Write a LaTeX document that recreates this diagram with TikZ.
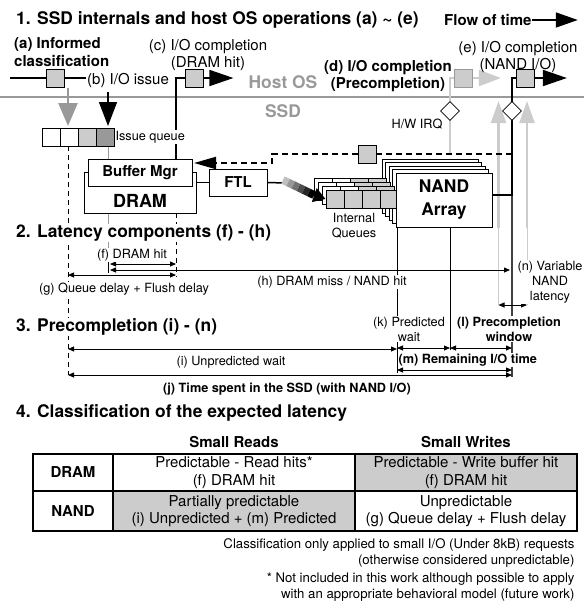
\documentclass[tikz,border=0pt]{standalone}
\usepackage{fontspec}
\setmainfont{TeX Gyre Heros}
\usetikzlibrary{arrows.meta,calc,positioning,shapes.geometric}
\definecolor{boxgray}{HTML}{CCCCCC}
\definecolor{midgray}{HTML}{999999}
\newcommand{\ftitle}{\fontsize{17.4}{20}\selectfont\bfseries}
\newcommand{\fbody}{\fontsize{15}{17.5}\selectfont}
\newcommand{\fsmall}{\fontsize{12.7}{15}\selectfont}
\newcommand{\fnote}{\fontsize{13.2}{16.5}\selectfont}
\tikzset{
  wire/.style      = {line width=1.8pt},
  thinwire/.style  = {line width=0.8pt},
  graywire/.style  = {line width=2.2pt, boxgray},
  guide/.style     = {line width=0.8pt, dash pattern=on 5pt off 4pt},
  sepline/.style   = {line width=2.6pt, midgray},
  sqbox/.style     = {draw, fill=boxgray, line width=0.8pt, minimum size=18pt, inner sep=0pt},
  cell/.style      = {draw, fill=white, line width=0.8pt, minimum size=18pt, inner sep=0pt},
  blockbox/.style  = {draw, fill=white, line width=1pt, inner sep=0pt, font=\fbody\bfseries},
  irq/.style       = {diamond, draw, fill=white, line width=0.8pt, minimum size=19pt, inner sep=0pt},
  sectitle/.style  = {font=\ftitle, anchor=west, fill=white, inner sep=1pt},
  annot/.style     = {font=\fsmall, align=center, fill=white, inner sep=1pt},
  bigarrow/.style  = {-{Triangle[length=24pt,width=16pt]}},
  dimarrow/.style  = {{Triangle[length=6pt,width=5pt]}-{Triangle[length=6pt,width=5pt]}, line width=0.8pt},
}

\begin{document}
\begin{tikzpicture}[x=1pt,y=-1pt]
  \useasboundingbox (0,0) rectangle (584,611);

  % host OS / SSD boundary
  \draw[sepline] (0,97) -- (584,97);
  \node[font=\ftitle, text=midgray] (hostos) at (283,82) {Host OS};
  \node[font=\ftitle, text=midgray] (ssd) at (283,111) {SSD};

  % guides down to the time lines
  \draw[guide] (68,146) -- (68,375);
  \draw[thinwire, midgray] (108,146) -- (108,159);
  \draw[thinwire, midgray] (108,213) -- (108,268);
  \draw[guide] (176,213) -- (176,277);
  \draw[thinwire] (108,262) -- (108,273);
  \draw[thinwire] (397,227) -- (397,373);
  \draw[thinwire] (450,227) -- (450,350);
  \draw[line width=1.3pt, black!75] (512,195) -- (512,377);

  % NAND latency spread
  \foreach \x in {498.5,527} {
    \draw[graywire, -{Triangle[length=22pt,width=15pt]}] (\x,228) -- (\x,101);
    \draw[thinwire, boxgray] (\x,228) -- (\x,305);
  }

  \node[sectitle] (t1) at (15,20) {1. SSD internals and host OS operations (a) \textasciitilde{} (e)};
  \node[font=\fbody\bfseries, anchor=west, inner sep=0pt] (flow) at (444,20) {Flow of time};
  \draw[wire, -{Triangle[length=22pt,width=15pt]}] (flow.east) -- ++(46,0);

  % (a), (b)
  \node[font=\fbody\bfseries, align=left, anchor=west, inner sep=0pt] (informed) at (14,52) {(a) Informed\\classification};
  \node[sqbox] (boxa) at (55,78) {};
  \draw[wire] (10,78) -- (boxa.west);
  \draw[wire] (boxa.east) -- (86,78);
  \node[font=\fbody, anchor=west, inner sep=0pt] (issue) at (87,80) {(b) I/O issue};

  \foreach \c [count=\i] in {white,white,boxgray,midgray}
    \node[cell, fill=\c] (iq\i) at (33+18*\i,137) {};
  \draw[line width=2.5pt, midgray, -{Triangle[length=23pt,width=19pt]}] (68,88) -- (68,126);
  \draw[line width=1.5pt, -{Triangle[length=24pt,width=18pt]}] (108,92) -- (108,126);

  % (c) DRAM hit
  \node[sqbox] (boxc) at (194,78) {};
  \draw[wire] (176,159) |- (boxc.west);
  \draw[wire, bigarrow] (boxc.east) -- ++(30,0);
  \node[font=\fbody, align=center] (lblc) at (208,55) {(c) I/O completion\\(DRAM hit)};
  \node[font=\fsmall, anchor=west, fill=white, inner sep=1pt] (iqlbl) at (iq4.east) {Issue queue};

  % (d) precompletion
  \node[sqbox, draw=midgray] (boxd) at (463.5,78) {};
  \draw[graywire] (450,154) |- (boxd.west);
  \draw[graywire, -{Triangle[length=22pt,width=16pt]}] (boxd.east) -- ++(28,0);
  \node[irq] (hwirq) at (450,111) {};
  \node[font=\fsmall] (hwlbl) at (417,124) {H/W IRQ};
  \node[font=\fbody\bfseries, align=center] (lbld) at (388,76) {(d) I/O completion\\(Precompletion)};

  % (e) NAND I/O
  \node[sqbox] (boxe) at (525.5,78) {};
  \draw[wire] (492,195) -- (512,195) |- (boxe.west);
  \draw[wire, bigarrow] (boxe.east) -- ++(32,0);
  \node[irq] (nandirq) at (512,111) {};
  \node[font=\fbody, align=center] (lble) at (518,57) {(e) I/O completion\\(NAND I/O)};

  % DRAM, buffer manager, FTL
  \node[draw, fill=white, line width=1pt, minimum width=112pt, minimum height=41pt, inner sep=0pt] (dram) at (140,192.5) {};
  \node[font=\fontsize{18}{20}\selectfont\bfseries] (dramlbl) at (140,201) {DRAM};
  \node[blockbox, minimum width=104pt, minimum height=27pt] (bufmgr) at (140,172.5) {Buffer Mgr};
  \node[blockbox, minimum width=58pt, minimum height=27pt] (ftl) at (238,182.5) {FTL};
  \draw[line width=1.5pt] (dram.east |- ftl.west) -- (ftl.west);

  % flush path back to the buffer
  \node[sqbox] (boxq) at (367,154) {};
  \draw[line width=2pt, dash pattern=on 6pt off 4pt] (512,154) -- (boxq.east);
  \draw[line width=2pt, dash pattern=on 6pt off 4pt, -{Triangle[length=22pt,width=12pt]}]
       (boxq.west) -- (272,154) -- (272,163) -- (194,163);

  % NAND array and internal queues
  \foreach \k in {4,3,2,1}
    \draw[fill=white, line width=0.8pt] (396-3.5*\k,173-3.5*\k) rectangle ++(96,54);
  \foreach \k in {3,2,1}
    \foreach \c [count=\j] in {white,white,boxgray,boxgray}
      \draw[fill=\c, line width=0.8pt] (308-4*\k+18*\j,190-4*\k) rectangle ++(18,18);
  \foreach \j in {1,...,4}
    \node[cell, fill=boxgray] (q\j) at (317+18*\j,199) {};
  \node[draw, fill=white, line width=1pt, minimum width=96pt, minimum height=54pt, inner sep=0pt,
        align=center, font=\fontsize{17.4}{23}\selectfont\bfseries] (nand) at (444,200) {NAND\\Array};
  \node[font=\fsmall, align=center] (iqname) at (354,225.5) {Internal\\Queues};

  % FTL dispatch
  \coordinate (sw0) at (283,180);
  \coordinate (sw1) at (314,195);
  \draw[line width=1.5pt] (ftl.east) -- (285,183);
  \foreach \i in {0,...,5} {
    \pgfmathsetmacro{\ta}{\i/6}
    \pgfmathsetmacro{\tb}{(\i+1)/6}
    \pgfmathsetmacro{\shd}{25+15*\i}
    \draw[line width=8pt, black!\shd] ($(sw0)!\ta!(sw1)$) -- ($(sw0)!\tb!(sw1)$);
  }
  \draw[line width=4pt, -{Triangle[length=12pt,width=14pt]}] (sw1) -- (q1.west);

  % latency components
  \node[sectitle] (t2) at (15,233) {2. Latency components (f) - (h)};
  \draw[dimarrow] (110,264) -- (176,264);
  \node[annot] (lblf) at (132,255) {(f) DRAM hit};
  \draw[dimarrow] (110,270) -- (510,270);
  \node[annot] (lblh) at (332,282) {(h) DRAM miss / NAND hit};
  \draw[dimarrow] (68,275) -- (176,275);
  \node[annot] (lblg) at (124,289) {(g) Queue delay + Flush delay};
  \draw[dimarrow] (498.5,305) -- (527,305);
  \node[annot] (lbln) at (550,282) {(n) Variable\\NAND\\latency};

  % precompletion
  \node[sectitle] (t3) at (15,327) {3. Precompletion (i) - (n)};
  \draw[dimarrow] (68,349) -- (397,349);
  \node[annot] (lbli) at (231,362) {(i) Unpredicted wait};
  \draw[dimarrow] (397,348) -- (450,348);
  \draw[dimarrow] (450,348) -- (512,348);
  \node[annot] (lblk) at (409,329) {(k) Predicted\\wait};
  \node[annot, font=\fsmall\bfseries] (lbll) at (509,329) {(l) Precompletion\\window};
  \draw[dimarrow] (397,370) -- (512,370);
  \node[annot, font=\fsmall\bfseries, anchor=west, inner sep=0.5pt] (lblm) at (398,360) {(m) Remaining I/O time};
  \draw[dimarrow] (68,375) -- (512,375);
  \node[annot, font=\fsmall\bfseries] (lblj) at (287,389) {(j) Time spent in the SSD (with NAND I/O)};

  % classification table
  \node[sectitle] (t4) at (15,413) {4. Classification of the expected latency};
  \fill[boxgray] (355,454) rectangle (577,491);
  \fill[boxgray] (113,491) rectangle (355,531);
  \draw[line width=2pt] (33,454) rectangle (577,531);
  \draw[line width=2pt] (113,454) -- (113,531);
  \draw[line width=2pt] (355,454) -- (355,531);
  \draw[line width=2pt] (33,491) -- (577,491);
  \node[font=\fbody\bfseries] (hdrr) at (234,442) {Small Reads};
  \node[font=\fbody\bfseries] (hdrw) at (466,442) {Small Writes};
  \node[font=\fbody\bfseries] (rowd) at (73,472.5) {DRAM};
  \node[font=\fbody\bfseries] (rown) at (73,511) {NAND};
  \node[font=\fbody, align=center] (cdr) at (234,472.5) {Predictable - Read hits*\\(f) DRAM hit};
  \node[font=\fbody, align=center] (cdw) at (466,472.5) {Predictable - Write buffer hit\\(f) DRAM hit};
  \node[font=\fbody, align=center] (cnr) at (234,511) {Partially predictable\\(i) Unpredicted + (m) Predicted};
  \node[font=\fbody, align=center] (cnw) at (466,511) {Unpredictable\\(g) Queue delay + Flush delay};

  \node[font=\fnote, align=right, anchor=east] (note1) at (578,553) {Classification only applied to small I/O (Under 8kB) requests\\(otherwise considered unpredictable)};
  \node[font=\fnote, align=right, anchor=east] (note2) at (578,587) {* Not included in this work although possible to apply\\with an appropriate behavioral model (future work)};
\end{tikzpicture}
\end{document}
